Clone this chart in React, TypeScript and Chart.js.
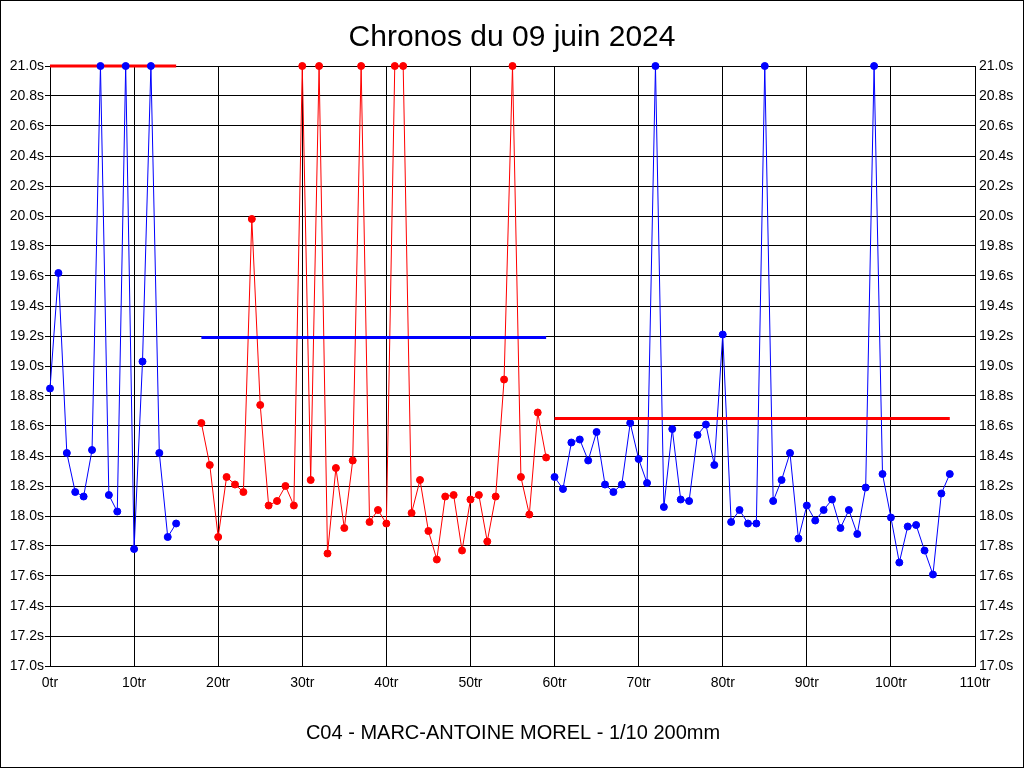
import React, { useEffect, useRef } from "react";
import { Chart, registerables } from "chart.js";

Chart.register(...registerables);

const titleText = "Chronos du 09 juin 2024";
const footerText = "C04 - MARC-ANTOINE MOREL - 1/10 200mm";

const seg1Start = 0;
const seg1Times = [18.85, 19.62, 18.42, 18.16, 18.13, 18.44, 21.0, 18.14, 18.03, 21.0, 17.78, 19.03, 21.0, 18.42, 17.86, 17.95];
const seg1Mean = 21.0;

const seg2Start = 18;
const seg2Times = [18.62, 18.34, 17.86, 18.26, 18.21, 18.16, 19.98, 18.74, 18.07, 18.10, 18.20, 18.07, 21.0, 18.24, 21.0, 17.75, 18.32, 17.92, 18.37, 21.0, 17.96, 18.04, 17.95, 21.0, 21.0, 18.02, 18.24, 17.90, 17.71, 18.13, 18.14, 17.77, 18.11, 18.14, 17.83, 18.13, 18.91, 21.0, 18.26, 18.01, 18.69, 18.39];
const seg2Mean = 19.19;

const seg3Start = 60;
const seg3Times = [18.26, 18.18, 18.49, 18.51, 18.37, 18.56, 18.21, 18.16, 18.21, 18.62, 18.38, 18.22, 21.0, 18.06, 18.58, 18.11, 18.10, 18.54, 18.61, 18.34, 19.21, 17.96, 18.04, 17.95, 17.95, 21.0, 18.10, 18.24, 18.42, 17.85, 18.07, 17.97, 18.04, 18.11, 17.92, 18.04, 17.88, 18.19, 21.0, 18.28, 17.99, 17.69, 17.93, 17.94, 17.77, 17.61, 18.15, 18.28];
const seg3Mean = 18.65;

const xMin = 0;
const xMax = 110;
const xStep = 10;
const yMin = 17.0;
const yMax = 21.0;
const yStep = 0.2;

const RED = "#ff0000";
const BLUE = "#0000ff";

const toPoints = (start: number, vals: number[]) => vals.map((v, i) => ({ x: start + i, y: v }));
const meanPoints = (start: number, vals: number[], m: number) => [
  { x: start, y: m },
  { x: start + vals.length - 1, y: m },
];

const dataDs = (pts: any[], color: string, order: number) => ({
  data: pts,
  borderColor: color,
  backgroundColor: color,
  borderWidth: 1,
  pointRadius: 3.5,
  pointBorderWidth: 1,
  pointBorderColor: color,
  pointBackgroundColor: color,
  tension: 0,
  clip: false as any,
  order,
});

const meanDs = (pts: any[], color: string, order: number) => ({
  data: pts,
  borderColor: color,
  backgroundColor: color,
  borderWidth: 3,
  pointRadius: 0,
  tension: 0,
  clip: false as any,
  order,
});

const framePlugin = {
  id: "frame",
  beforeDraw(chart: any) {
    const ctx = chart.ctx;
    ctx.save();
    ctx.fillStyle = "#ffffff";
    ctx.fillRect(0, 0, chart.width, chart.height);
    ctx.restore();
  },
  afterDraw(chart: any) {
    const ctx = chart.ctx;
    ctx.save();
    ctx.strokeStyle = "#000000";
    ctx.lineWidth = 1;
    ctx.strokeRect(0.5, 0.5, chart.width - 1, chart.height - 1);
    ctx.fillStyle = "#000000";
    ctx.textAlign = "center";
    ctx.textBaseline = "alphabetic";
    ctx.font = "30px 'Liberation Sans', Arial, sans-serif";
    ctx.fillText(titleText, 512, 46);
    ctx.font = "20px 'Liberation Sans', Arial, sans-serif";
    ctx.fillText(footerText, 513, 739);
    ctx.restore();
  },
};

const tickFont = { family: "'Liberation Sans', Arial, sans-serif", size: 14 };

export default function App() {
  const ref = useRef<HTMLCanvasElement>(null);
  useEffect(() => {
    if (!ref.current) return;
    const chart = new Chart(ref.current, {
      type: "line",
      data: {
        datasets: [
          meanDs(meanPoints(seg1Start, seg1Times, seg1Mean), RED, 6),
          dataDs(toPoints(seg1Start, seg1Times), BLUE, 5),
          dataDs(toPoints(seg2Start, seg2Times), RED, 4),
          meanDs(meanPoints(seg2Start, seg2Times, seg2Mean), BLUE, 3),
          dataDs(toPoints(seg3Start, seg3Times), BLUE, 2),
          meanDs(meanPoints(seg3Start, seg3Times, seg3Mean), RED, 1),
        ] as any,
      },
      options: {
        animation: false,
        responsive: false,
        devicePixelRatio: 1,
        layout: { padding: { top: 66, left: 0, right: 0, bottom: 0 } },
        plugins: {
          legend: { display: false },
          tooltip: { enabled: false },
          title: { display: false },
        },
        scales: {
          x: {
            type: "linear",
            min: xMin,
            max: xMax,
            ticks: {
              stepSize: xStep,
              color: "#000000",
              font: tickFont,
              padding: 9,
              maxRotation: 0,
              autoSkip: false,
              callback: (v: any) => `${Math.round(Number(v))}tr`,
            },
            grid: { color: "#000000", lineWidth: 1, drawTicks: false },
            border: { color: "#000000", width: 1 },
            afterFit: (s: any) => {
              s.height = 102;
            },
          },
          y: {
            type: "linear",
            position: "left",
            min: yMin,
            max: yMax,
            ticks: {
              stepSize: yStep,
              color: "#000000",
              font: tickFont,
              padding: 1,
              autoSkip: false,
              callback: (v: any) => `${Number(v).toFixed(1)}s`,
            },
            grid: { color: "#000000", lineWidth: 1, tickLength: 5 },
            border: { color: "#000000", width: 1 },
            afterFit: (s: any) => {
              s.width = 50;
            },
          },
          y2: {
            type: "linear",
            position: "right",
            min: yMin,
            max: yMax,
            ticks: {
              stepSize: yStep,
              color: "#000000",
              font: tickFont,
              padding: 4,
              autoSkip: false,
              callback: (v: any) => `${Number(v).toFixed(1)}s`,
            },
            grid: { drawOnChartArea: false, drawTicks: false },
            border: { color: "#000000", width: 1 },
            afterFit: (s: any) => {
              s.width = 49;
            },
          },
        },
      } as any,
      plugins: [framePlugin],
    });
    return () => chart.destroy();
  }, []);
  return (
    <div style={{ position: "absolute", left: 0, top: 0, width: 1024, height: 768 }}>
      <canvas ref={ref} width={1024} height={768} style={{ display: "block" }} />
    </div>
  );
}
